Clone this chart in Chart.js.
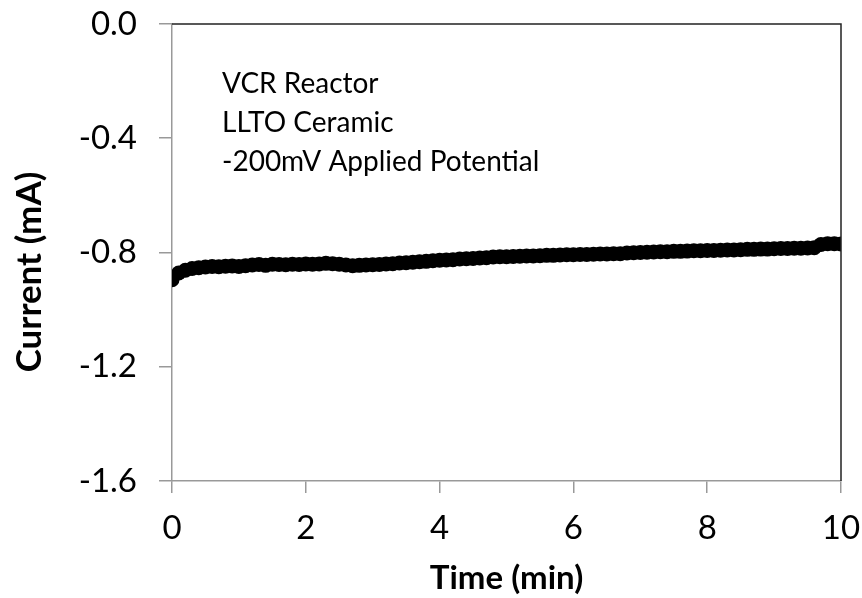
<!DOCTYPE html>
<html>
<head>
<meta charset="utf-8">
<script src="https://cdn.jsdelivr.net/npm/chart.js@4/dist/chart.umd.min.js"></script>
<style>
  body { margin: 0; background: #fff; }
  #wrap { width: 862px; height: 598px; }
</style>
</head>
<body>
<div id="wrap"><canvas id="currentChart"></canvas></div>
<script>
// time in minutes, read every 0.1 min
const times = [
  0.0, 0.1, 0.2, 0.3, 0.4, 0.5, 0.6, 0.7, 0.8, 0.9,
  1.0, 1.1, 1.2, 1.3, 1.4, 1.5, 1.6, 1.7, 1.8, 1.9,
  2.0, 2.1, 2.2, 2.3, 2.4, 2.5, 2.6, 2.7, 2.8, 2.9,
  3.0, 3.1, 3.2, 3.3, 3.4, 3.5, 3.6, 3.7, 3.8, 3.9,
  4.0, 4.1, 4.2, 4.3, 4.4, 4.5, 4.6, 4.7, 4.8, 4.9,
  5.0, 5.1, 5.2, 5.3, 5.4, 5.5, 5.6, 5.7, 5.8, 5.9,
  6.0, 6.1, 6.2, 6.3, 6.4, 6.5, 6.6, 6.7, 6.8, 6.9,
  7.0, 7.1, 7.2, 7.3, 7.4, 7.5, 7.6, 7.7, 7.8, 7.9,
  8.0, 8.1, 8.2, 8.3, 8.4, 8.5, 8.6, 8.7, 8.8, 8.9,
  9.0, 9.1, 9.2, 9.3, 9.4, 9.5, 9.6, 9.7, 9.8, 9.9,
  10.0
];
// current in mA
const current = [
  -0.895, -0.872, -0.862, -0.856, -0.853, -0.851, -0.849, -0.850, -0.848, -0.847,
  -0.849, -0.846, -0.844, -0.842, -0.845, -0.841, -0.842, -0.843, -0.841, -0.842,
  -0.840, -0.841, -0.840, -0.838, -0.839, -0.841, -0.844, -0.846, -0.845, -0.844,
  -0.843, -0.842, -0.840, -0.839, -0.837, -0.836, -0.834, -0.832, -0.831, -0.829,
  -0.827, -0.826, -0.825, -0.823, -0.822, -0.821, -0.819, -0.818, -0.816, -0.815,
  -0.815, -0.814, -0.813, -0.812, -0.812, -0.811, -0.810, -0.810, -0.809, -0.808,
  -0.808, -0.807, -0.807, -0.806, -0.805, -0.805, -0.804, -0.804, -0.802, -0.801,
  -0.800, -0.799, -0.798, -0.797, -0.797, -0.796, -0.796, -0.795, -0.794, -0.794,
  -0.793, -0.793, -0.792, -0.791, -0.791, -0.790, -0.789, -0.789, -0.788, -0.788,
  -0.787, -0.786, -0.786, -0.785, -0.785, -0.784, -0.783, -0.772, -0.769, -0.769,
  -0.770
];
const notes = ['VCR Reactor', 'LLTO Ceramic', '-200mV Applied Potential'];
const yTitle = 'Current (mA)';

const FONT = 'Lato, "Open Sans", sans-serif';

// top + right frame, y title and the text block inside the plot
const framePlugin = {
  id: 'frame',
  afterDraw(chart) {
    const { ctx, chartArea: a } = chart;
    ctx.save();
    ctx.strokeStyle = '#222';
    ctx.lineWidth = 1.5;
    ctx.beginPath();
    ctx.moveTo(a.left, a.top);
    ctx.lineTo(a.right, a.top);
    ctx.lineTo(a.right, a.bottom);
    ctx.stroke();
    ctx.fillStyle = '#000';
    ctx.font = '28px ' + FONT;
    ctx.textBaseline = 'middle';
    notes.forEach((t, i) => ctx.fillText(t, 222, 84 + i * 39));
    // y title sits a bit below the middle of the axis in the original
    ctx.translate(30, 272);
    ctx.rotate(-Math.PI / 2);
    ctx.font = 'bold 35px ' + FONT;
    ctx.textAlign = 'center';
    ctx.fillText(yTitle, 0, 0);
    ctx.restore();
  }
};

new Chart(document.getElementById('currentChart'), {
  type: 'scatter',
  data: {
    datasets: [{
      data: times.map((t, i) => ({ x: t, y: current[i] })),
      backgroundColor: '#000',
      borderColor: '#000',
      pointRadius: 7.5,
      pointBorderWidth: 0,
      pointHoverRadius: 7.5
    }]
  },
  options: {
    responsive: true,
    maintainAspectRatio: false,
    animation: false,
    layout: { padding: { top: 24, right: 21, left: 0, bottom: 0 } },
    plugins: { legend: { display: false }, tooltip: { enabled: false } },
    scales: {
      x: {
        type: 'linear',
        min: 0, max: 10,
        ticks: { stepSize: 2, color: '#000', font: { family: FONT, size: 33 }, padding: 16 },
        grid: { drawOnChartArea: false, color: '#999', tickLength: 12, lineWidth: 1.5 },
        border: { color: '#999', width: 1.5 },
        title: {
          display: true, text: 'Time (min)', color: '#000', padding: { top: 0, bottom: 0 },
          font: { family: FONT, size: 33, weight: 'bold' }
        },
        afterFit(scale) {
          scale.height = 117;
          scale.paddingLeft = 0;
          scale.paddingRight = 0;
        }
      },
      y: {
        min: -1.6, max: 0,
        ticks: {
          stepSize: 0.4, color: '#000', font: { family: FONT, size: 33 }, padding: 22,
          callback: v => v.toFixed(1)
        },
        grid: { drawOnChartArea: false, color: '#999', tickLength: 13, lineWidth: 1.5 },
        border: { color: '#999', width: 1.5 },
        afterFit(scale) {
          scale.width = 172;
          scale.paddingTop = 0;
          scale.paddingBottom = 0;
        }
      }
    }
  },
  plugins: [framePlugin]
});
</script>
</body>
</html>
